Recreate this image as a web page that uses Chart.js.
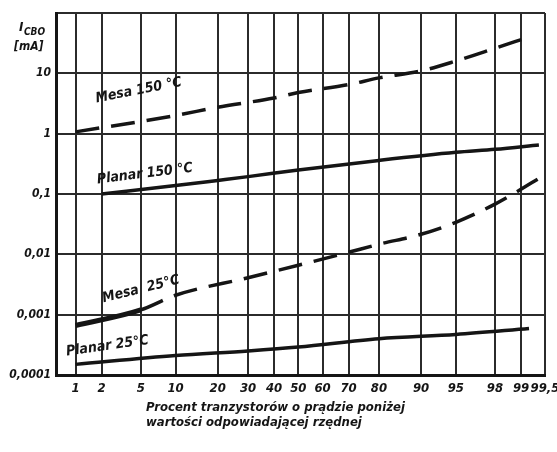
<!DOCTYPE html>
<html>
<head>
<meta charset="utf-8">
<script src="https://cdn.jsdelivr.net/npm/chart.js@4"></script>
<style>
  html, body { margin: 0; padding: 0; background: #fff; }
  #wrap { width: 557px; height: 452px; }
</style>
</head>
<body>
<div id="wrap"><canvas id="myChart"></canvas></div>
<script>
'use strict';

// tick values and their printed labels
let percentTicks = [1, 2, 5, 10, 20, 30, 40, 50, 60, 70, 80, 90, 95, 98, 99, 99.5];
let percentTickLabels = ['1', '2', '5', '10', '20', '30', '40', '50', '60', '70', '80', '90', '95', '98', '99', '99,5'];
let currentTicks = [0.0001, 0.001, 0.01, 0.1, 1, 10, 100];
let currentTickLabels = ['0,0001', '0,001', '0,01', '0,1', '1', '10', ''];

// series (percent of transistors, I_CBO in mA)
let mesa150Pct = [1, 10, 20, 40, 50, 70, 80, 90, 95, 98, 99.1];
let mesa150Val = [1.07, 2.0, 2.75, 3.9, 4.8, 6.5, 8.4, 11, 16, 26, 38];

let planar150Pct = [2, 10, 20, 30, 50, 80, 95, 98, 99.4];
let planar150Val = [0.1, 0.138, 0.168, 0.194, 0.25, 0.36, 0.49, 0.55, 0.65];

let mesa25Pct = [1, 5, 10, 30, 50, 70, 80, 90, 95, 98, 99.4];
let mesa25Val = [0.00066, 0.0012, 0.0021, 0.0041, 0.0066, 0.0108, 0.0147, 0.0215, 0.034, 0.068, 0.18];

let planar25Pct = [1, 10, 30, 50, 80, 95, 99.2];
let planar25Val = [0.00015, 0.00021, 0.00025, 0.00029, 0.0004, 0.00047, 0.00059];

// inverse normal cdf (Acklam), used for the probability axis
function probit(pct) {
  let p = pct / 100;
  let a = [-39.69683028665376, 220.9460984245205, -275.9285104469687, 138.3577518672690, -30.66479806614716, 2.506628277459239];
  let b = [-54.47609879822406, 161.5858368580409, -155.6989798598866, 66.80131188771972, -13.28068155288572];
  let c = [-0.007784894002430293, -0.3223964580411365, -2.400758277161838, -2.549732539343734, 4.374664141464968, 2.938163982698783];
  let d = [0.007784695709041462, 0.3224671290700398, 2.445134137142996, 3.754408661907416];
  let pLow = 0.02425;
  let q, r;
  if (p < pLow) {
    q = Math.sqrt(-2 * Math.log(p));
    return (((((c[0] * q + c[1]) * q + c[2]) * q + c[3]) * q + c[4]) * q + c[5]) /
      ((((d[0] * q + d[1]) * q + d[2]) * q + d[3]) * q + 1);
  }
  if (p <= 1 - pLow) {
    q = p - 0.5;
    r = q * q;
    return (((((a[0] * r + a[1]) * r + a[2]) * r + a[3]) * r + a[4]) * r + a[5]) * q /
      (((((b[0] * r + b[1]) * r + b[2]) * r + b[3]) * r + b[4]) * r + 1);
  }
  q = Math.sqrt(-2 * Math.log(1 - p));
  return -(((((c[0] * q + c[1]) * q + c[2]) * q + c[3]) * q + c[4]) * q + c[5]) /
    ((((d[0] * q + d[1]) * q + d[2]) * q + d[3]) * q + 1);
}

function toPoints(pcts, vals) {
  let pts = [];
  for (let i = 0; i < pcts.length; i++) {
    pts.push({ x: probit(pcts[i]), y: vals[i] });
  }
  return pts;
}

let ink = '#151515';
let gridInk = '#2b2b2b';
let handFont = "'DejaVu Sans Condensed', 'DejaVu Sans', sans-serif";

// curve captions, anchored in data coordinates
let captions = [
  { text: 'Mesa 150 °C', pct: 1.75, val: 3.3, angle: -11, size: 14 },
  { text: 'Planar 150 °C', pct: 1.8, val: 0.15, angle: -7, size: 14 },
  { text: 'Mesa  25°C', pct: 2.1, val: 0.0016, angle: -14, size: 14 },
  { text: 'Planar 25°C', pct: 0.78, val: 0.00021, angle: -8, size: 14 }
];

const textPlugin = {
  id: 'textPlugin',
  afterDraw(chart) {
    let ctx = chart.ctx;
    let xs = chart.scales.x;
    let ys = chart.scales.y;
    let area = chart.chartArea;
    ctx.save();
    ctx.fillStyle = ink;

    captions.forEach(function (c) {
      let px = xs.getPixelForValue(probit(c.pct));
      let py = ys.getPixelForValue(c.val);
      ctx.save();
      ctx.translate(px, py);
      ctx.rotate(c.angle * Math.PI / 180);
      ctx.font = 'italic bold ' + c.size + 'px ' + handFont;
      ctx.textAlign = 'left';
      ctx.textBaseline = 'alphabetic';
      ctx.fillText(c.text, 0, 0);
      ctx.restore();
    });

    // y axis title: I_CBO [mA]
    ctx.font = 'italic bold 13px ' + handFont;
    ctx.textAlign = 'left';
    ctx.textBaseline = 'alphabetic';
    let tx = area.left - 37;
    ctx.fillText('I', tx, area.top + 18);
    ctx.font = 'italic bold 10px ' + handFont;
    ctx.fillText('CBO', tx + 5, area.top + 22);
    ctx.font = 'italic bold 12px ' + handFont;
    ctx.fillText('[mA]', area.left - 42, area.top + 37);

    // x axis title
    ctx.font = 'italic bold 13px ' + handFont;
    ctx.fillText('Procent tranzystorów o prądzie poniżej', 146, 411);
    ctx.fillText('wartości odpowiadającej rzędnej', 146, 426);
    ctx.restore();
  }
};

const data = {
  datasets: [{
    label: 'Mesa 150 °C',
    data: toPoints(mesa150Pct, mesa150Val),
    borderColor: ink,
    borderWidth: 3.5,
    borderDash: [24, 12],
    pointRadius: 0,
    cubicInterpolationMode: 'monotone'
  }, {
    label: 'Planar 150 °C',
    data: toPoints(planar150Pct, planar150Val),
    borderColor: ink,
    borderWidth: 3.5,
    pointRadius: 0,
    cubicInterpolationMode: 'monotone'
  }, {
    label: 'Mesa 25 °C',
    data: toPoints(mesa25Pct, mesa25Val),
    borderColor: ink,
    borderWidth: 3.5,
    borderDash: [24, 12],
    pointRadius: 0,
    cubicInterpolationMode: 'monotone',
    segment: {
      borderDash: function (ctx) { return ctx.p0DataIndex === 0 ? [] : undefined; },
      borderWidth: function (ctx) { return ctx.p0DataIndex === 0 ? 5 : undefined; }
    }
  }, {
    label: 'Planar 25 °C',
    data: toPoints(planar25Pct, planar25Val),
    borderColor: ink,
    borderWidth: 3.5,
    pointRadius: 0,
    cubicInterpolationMode: 'monotone'
  }]
};

const config = {
  type: 'line',
  data: data,
  options: {
    responsive: true,
    maintainAspectRatio: false,
    animation: false,
    layout: { padding: { top: 13, right: 12, left: 0, bottom: 0 } },
    plugins: {
      legend: { display: false },
      tooltip: { enabled: false }
    },
    scales: {
      x: {
        type: 'linear',
        min: -2.53,
        max: probit(99.5),
        afterBuildTicks: function (scale) {
          scale.ticks = percentTicks.map(function (p) { return { value: probit(p) }; });
        },
        afterFit: function (scale) {
          scale.height = 77;
          scale.paddingLeft = 0;
          scale.paddingRight = 0;
        },
        ticks: {
          autoSkip: false,
          maxRotation: 0,
          padding: 6,
          color: ink,
          font: { family: handFont, size: 13, style: 'italic', weight: 'bold' },
          callback: function (value, index) { return percentTickLabels[index]; }
        },
        grid: { color: gridInk, lineWidth: 2, drawTicks: false },
        border: { color: ink, width: 3 }
      },
      y: {
        type: 'logarithmic',
        min: 0.0001,
        max: 100,
        afterBuildTicks: function (scale) {
          scale.ticks = currentTicks.map(function (v) { return { value: v }; });
        },
        afterFit: function (scale) {
          scale.width = 56;
          scale.paddingTop = 0;
          scale.paddingBottom = 0;
        },
        ticks: {
          autoSkip: false,
          padding: 5,
          color: ink,
          font: { family: handFont, size: 12, style: 'italic', weight: 'bold' },
          callback: function (value, index) { return currentTickLabels[index]; }
        },
        grid: { color: gridInk, lineWidth: 2, drawTicks: false },
        border: { color: ink, width: 3 }
      }
    }
  },
  plugins: [textPlugin]
};

const myChart = new Chart(document.getElementById('myChart'), config);
</script>
</body>
</html>
